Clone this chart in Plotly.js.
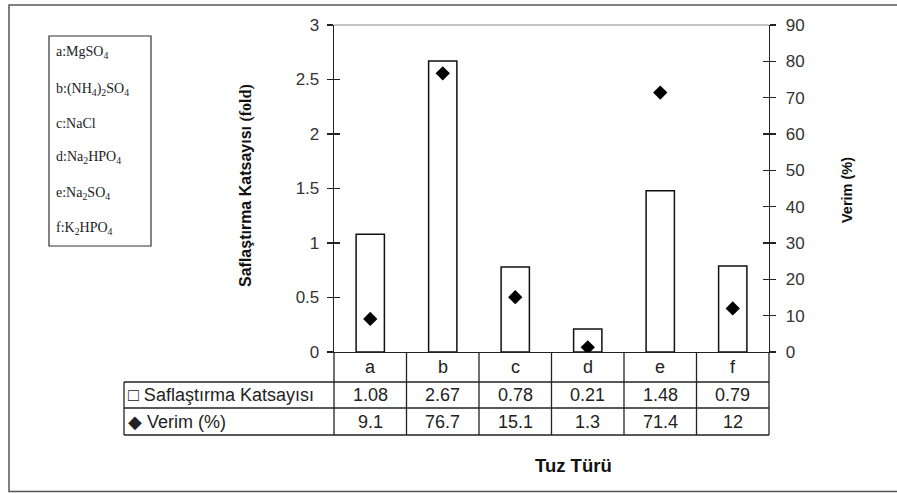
<!DOCTYPE html>
<html>
<head>
<meta charset="utf-8">
<script src="https://cdn.plot.ly/plotly-3.0.1.min.js"></script>
<style>
  html, body { margin: 0; padding: 0; background: #fff; }
  #chart { width: 897px; height: 493px; }
</style>
</head>
<body>
<div id="chart"></div>
<script>
// Salt types and measured results
const categories = ['a', 'b', 'c', 'd', 'e', 'f'];
const foldValues = [1.08, 2.67, 0.78, 0.21, 1.48, 0.79];   // Saflaştırma Katsayısı (fold)
const yieldValues = [9.1, 76.7, 15.1, 1.3, 71.4, 12];      // Verim (%)
const saltNames = [
  'a:MgSO<sub>4</sub>',
  'b:(NH<sub>4</sub>)<sub>2</sub>SO<sub>4</sub>',
  'c:NaCl',
  'd:Na<sub>2</sub>HPO<sub>4</sub>',
  'e:Na<sub>2</sub>SO<sub>4</sub>',
  'f:K<sub>2</sub>HPO<sub>4</sub>'
];
const leftTicks = [0, 0.5, 1, 1.5, 2, 2.5, 3];
const rightTicks = [0, 10, 20, 30, 40, 50, 60, 70, 80, 90];
const rowLabels = ['\u25A1 Saflaştırma Katsayısı', '\u25C6 Verim (%)'];

const W = 897, H = 493;
const M = { l: 334, r: 128, t: 25, b: 141 };
const PW = W - M.l - M.r, PH = H - M.t - M.b;
// pixel -> paper helpers for the data table and frame
const px = x => (x - M.l) / PW;
const py = y => (H - M.b - y) / PH;

const sans = 'Liberation Sans, Arial, sans-serif';
const tickFont = { family: sans, size: 17, color: '#333' };
const lineCol = '#222';

const traces = [
  {
    type: 'bar', x: categories, y: foldValues, width: 0.39,
    marker: { color: '#fff', line: { color: '#111', width: 1.5 } },
    yaxis: 'y', hoverinfo: 'x+y', showlegend: false
  },
  {
    type: 'scatter', mode: 'markers', x: categories, y: yieldValues,
    marker: { symbol: 'diamond', size: 11, color: '#000' },
    yaxis: 'y2', showlegend: false
  }
];

const shapes = [];
const annotations = [];
const line = (x0, y0, x1, y1, color, width) => shapes.push({
  type: 'line', xref: 'paper', yref: 'paper',
  x0: px(x0), y0: py(y0), x1: px(x1), y1: py(y1),
  line: { color: color || lineCol, width: width || 1.3 }
});

// outer frame
shapes.push({ type: 'rect', xref: 'paper', yref: 'paper',
  x0: px(9), y0: py(5), x1: px(905), y1: py(491.5),
  line: { color: '#555', width: 1.5 } });
// top edge of plot area
line(M.l, M.t, W - M.r, M.t, '#888', 1);

// data table below the x axis
const n = categories.length;
const tableLeft = 124, rowTop = H - M.b, r1 = 382, r2 = 408, r3 = 435;
for (let i = 0; i <= n; i++) {
  const x = M.l + PW * i / n;
  line(x, rowTop, x, r3);
}
line(tableLeft, r1, W - M.r, r1);
line(tableLeft, r2, W - M.r, r2);
line(tableLeft, r3, W - M.r, r3);
line(tableLeft, r1, tableLeft, r3);

const cellFont = { family: sans, size: 18, color: '#222' };
categories.forEach((c, i) => {
  const xc = (i + 0.5) / n;
  annotations.push({ xref: 'paper', yref: 'paper', x: xc, y: py((rowTop + r1) / 2),
    text: c, showarrow: false, font: cellFont, xanchor: 'center', yanchor: 'middle' });
  annotations.push({ xref: 'paper', yref: 'paper', x: xc, y: py((r1 + r2) / 2),
    text: String(foldValues[i]), showarrow: false, font: cellFont, xanchor: 'center', yanchor: 'middle' });
  annotations.push({ xref: 'paper', yref: 'paper', x: xc, y: py((r2 + r3) / 2),
    text: String(yieldValues[i]), showarrow: false, font: cellFont, xanchor: 'center', yanchor: 'middle' });
});
annotations.push({ xref: 'paper', yref: 'paper', x: px(126), y: py((r1 + r2) / 2),
  text: rowLabels[0], showarrow: false, font: cellFont, xanchor: 'left', yanchor: 'middle' });
annotations.push({ xref: 'paper', yref: 'paper', x: px(126), y: py((r2 + r3) / 2),
  text: rowLabels[1], showarrow: false, font: cellFont, xanchor: 'left', yanchor: 'middle' });

// axis titles
annotations.push({ xref: 'paper', yref: 'paper', x: px(246), y: py(186),
  text: '<b>Saflaştırma Katsayısı </b><span style="font-family:Liberation Serif, Times New Roman, serif"><b>(fold)</b></span>',
  textangle: -90, showarrow: false,
  font: { family: sans, size: 16, color: '#111' },
  xanchor: 'center', yanchor: 'middle' });
annotations.push({ xref: 'paper', yref: 'paper', x: px(847), y: py(190),
  text: '<b>Verim (%)</b>', textangle: -90, showarrow: false,
  font: { family: sans, size: 14.5, color: '#111' },
  xanchor: 'center', yanchor: 'middle' });
annotations.push({ xref: 'paper', yref: 'paper', x: px(573), y: py(465),
  text: '<b>Tuz Türü</b>', showarrow: false,
  font: { family: sans, size: 18.5, color: '#111' },
  xanchor: 'center', yanchor: 'middle' });

// key box of salt names
shapes.push({ type: 'rect', xref: 'paper', yref: 'paper',
  x0: px(49), y0: py(36), x1: px(151), y1: py(246),
  line: { color: '#333', width: 1.2 } });
const keyY = [53, 89, 123, 157, 193, 228];
saltNames.forEach((s, i) => {
  annotations.push({ xref: 'paper', yref: 'paper', x: px(54), y: py(keyY[i]),
    text: s, showarrow: false, xanchor: 'left', yanchor: 'middle',
    font: { family: 'Liberation Serif, Times New Roman, serif', size: 14, color: '#222' } });
});

const baseY = {
  range: [0, 3], tickvals: leftTicks, ticktext: leftTicks.map(String),
  showgrid: false, zeroline: false, showline: true, linecolor: lineCol, linewidth: 1.3,
  fixedrange: true
};
const baseY2 = {
  range: [0, 90], tickvals: rightTicks, ticktext: rightTicks.map(String),
  showgrid: false, zeroline: false, showline: true, linecolor: lineCol, linewidth: 1.3,
  fixedrange: true
};

const layout = {
  width: W, height: H,
  margin: M,
  paper_bgcolor: '#fff', plot_bgcolor: '#fff',
  showlegend: false,
  bargap: 0,
  xaxis: {
    type: 'category', range: [-0.5, n - 0.5], showticklabels: false, ticks: '',
    showgrid: false, zeroline: false, showline: true, linecolor: lineCol, linewidth: 1.3,
    fixedrange: true
  },
  yaxis: Object.assign({}, baseY, {
    side: 'left', ticks: 'outside', ticklen: 6, tickcolor: lineCol, tickwidth: 1.2,
    tickfont: tickFont, ticklabelstandoff: 4
  }),
  yaxis2: Object.assign({}, baseY2, {
    side: 'right', overlaying: 'y', ticks: 'outside', ticklen: 6, tickcolor: lineCol, tickwidth: 1.2,
    tickfont: tickFont, ticklabelstandoff: 6
  }),
  // inner halves of the crossing tick marks
  yaxis3: Object.assign({}, baseY, {
    side: 'left', overlaying: 'y', ticks: 'inside', ticklen: 6, tickcolor: lineCol, tickwidth: 1.2,
    showticklabels: false
  }),
  yaxis4: Object.assign({}, baseY2, {
    side: 'right', overlaying: 'y', ticks: 'inside', ticklen: 6, tickcolor: lineCol, tickwidth: 1.2,
    showticklabels: false
  }),
  shapes: shapes,
  annotations: annotations
};

// empty traces so the overlay tick axes are rendered
traces.push({ type: 'scatter', x: [], y: [], yaxis: 'y3', showlegend: false, hoverinfo: 'skip' });
traces.push({ type: 'scatter', x: [], y: [], yaxis: 'y4', showlegend: false, hoverinfo: 'skip' });

Plotly.newPlot('chart', traces, layout, { displayModeBar: false, staticPlot: true });
</script>
</body>
</html>
